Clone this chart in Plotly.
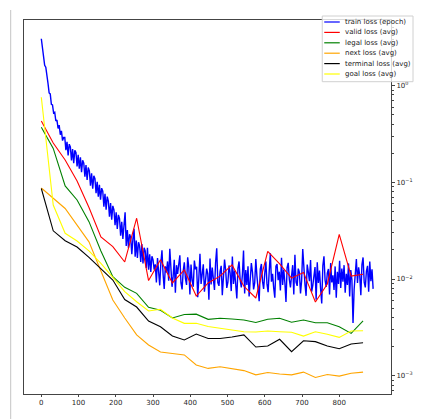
import plotly.graph_objects as go

# ---------------- data ----------------
avg_epochs = list(range(0, 865, 32))

valid_loss = [0.431, 0.255, 0.170, 0.103, 0.0548, 0.0272, 0.0216, 0.0150, 0.0425, 0.00964,
              0.0158, 0.00910, 0.0124, 0.00667, 0.00910, 0.0107, 0.0140, 0.00841, 0.00636, 0.0193,
              0.0143, 0.0102, 0.0117, 0.00578, 0.00888, 0.0290, 0.0107, 0.0112]
legal_loss = [0.371, 0.224, 0.0916, 0.0656, 0.0392, 0.0195, 0.01057, 0.00820, 0.00711, 0.00510,
              0.00475, 0.00395, 0.00430, 0.00433, 0.00383, 0.00393, 0.00386, 0.00377, 0.00355, 0.00383,
              0.00393, 0.00357, 0.00377, 0.00353, 0.00353, 0.00321, 0.00274, 0.00368]
next_loss = [0.0873, 0.0689, 0.0536, 0.0361, 0.0242, 0.0121, 0.00607, 0.00395, 0.00264, 0.00208,
             0.00176, 0.00170, 0.00164, 0.00129, 0.00119, 0.00124, 0.00119, 0.00113, 0.00102, 0.00108,
             0.00104, 0.00102, 0.00109, 0.00096, 0.00103, 0.00099, 0.00106, 0.00109]
terminal_loss = [0.0863, 0.0315, 0.0249, 0.0214, 0.0167, 0.0127, 0.00977, 0.00614, 0.00513, 0.00368,
                 0.00321, 0.00258, 0.00234, 0.00270, 0.00243, 0.00243, 0.00251, 0.00264, 0.00198, 0.00203,
                 0.00238, 0.00177, 0.00230, 0.00225, 0.00203, 0.00190, 0.00213, 0.00219]
goal_loss = [0.757, 0.0582, 0.0297, 0.0247, 0.0195, 0.0145, 0.01037, 0.00739, 0.00582, 0.00467,
             0.00486, 0.00395, 0.00348, 0.00348, 0.00323, 0.00308, 0.00297, 0.00285, 0.00283, 0.00290,
             0.00285, 0.00281, 0.00257, 0.00285, 0.00268, 0.00249, 0.00290, 0.00292]

train_loss = [
    3.05, 2.45, 2.15, 1.62, 1.55, 1.18, 1.05, 0.84, 0.82, 0.64, 0.63, 0.52, 0.53, 0.43, 0.44, 0.36,
    0.39, 0.31, 0.34, 0.27, 0.29,
    0.29, 0.215, 0.262, 0.19, 0.248, 0.232, 0.168, 0.221, 0.158, 0.214, 0.203, 0.146, 0.192, 0.138,
    0.181, 0.127, 0.169, 0.158, 0.114, 0.151, 0.106, 0.142, 0.131, 0.092, 0.124, 0.086, 0.117, 0.109,
    0.077, 0.101,
    0.071, 0.094, 0.066, 0.087, 0.081, 0.056, 0.076, 0.052, 0.071, 0.064, 0.044, 0.061, 0.041, 0.057,
    0.052, 0.036, 0.049, 0.033, 0.046, 0.042, 0.028, 0.039, 0.026, 0.037, 0.049, 0.022, 0.032, 0.021,
    0.029, 0.027, 0.018, 0.026, 0.033, 0.017, 0.025, 0.0165, 0.024, 0.022, 0.015, 0.023, 0.0145, 0.021,
    0.0195, 0.013, 0.021, 0.0125, 0.018, 0.0118, 0.0172, 0.0158,
    0.0125, 0.0142, 0.0092, 0.0165, 0.0104, 0.0086, 0.0147, 0.0198, 0.0112, 0.0079, 0.0135, 0.0117,
    0.0152, 0.0096, 0.0205, 0.0128, 0.0083, 0.0107, 0.0158, 0.0072, 0.0139, 0.0113, 0.0145, 0.0176,
    0.0091, 0.0078, 0.0121, 0.0149, 0.0101, 0.0087, 0.0168, 0.0132, 0.0069,
    0.0141, 0.0097, 0.0083, 0.0155, 0.0126, 0.0134, 0.0065, 0.0102, 0.0182, 0.0089, 0.0117, 0.0142,
    0.0074, 0.0095, 0.0128, 0.0113, 0.0061, 0.0163, 0.0088, 0.0131, 0.0099, 0.0077, 0.0148, 0.0208,
    0.0092, 0.0085, 0.0119, 0.0137, 0.0068, 0.0103, 0.0159, 0.0124, 0.0081,
    0.0093, 0.0138, 0.0116, 0.0075, 0.0171, 0.0089, 0.0122, 0.0094, 0.0063, 0.0129, 0.0152, 0.0098,
    0.0082, 0.0111, 0.0197, 0.0071, 0.0124, 0.0087, 0.0135, 0.0066, 0.0101, 0.0146, 0.0118, 0.0078,
    0.0091, 0.0161, 0.0107, 0.0084, 0.0059, 0.0127, 0.0143, 0.0095, 0.0079,
    0.0114, 0.0152, 0.0089, 0.0073, 0.0121, 0.0185, 0.0094, 0.0113, 0.0081, 0.0064, 0.0136, 0.0143,
    0.0097, 0.0119, 0.0076, 0.0166, 0.0087, 0.0125, 0.0092, 0.0058, 0.0131, 0.0147, 0.0099, 0.0082,
    0.0108, 0.0139, 0.0069, 0.0178, 0.0093, 0.0085, 0.0128, 0.0117, 0.0071,
    0.0096, 0.0204, 0.0126, 0.0088, 0.0067, 0.0141, 0.0118, 0.0095, 0.0157, 0.0074, 0.0086, 0.0112,
    0.0133, 0.0061, 0.0149, 0.0091, 0.0122, 0.0079, 0.0056, 0.0138, 0.0172, 0.0097, 0.0083, 0.0115,
    0.0127, 0.0069, 0.0146, 0.0092, 0.0109, 0.0077, 0.0135, 0.0064, 0.0119,
    0.0089, 0.0154, 0.0081, 0.0128, 0.0094, 0.0139, 0.0072, 0.0113, 0.0087, 0.0145, 0.0066, 0.0124,
    0.0098, 0.0035, 0.0078, 0.0118, 0.0161, 0.0091, 0.0132, 0.0109, 0.0068, 0.0141, 0.0167, 0.0093,
    0.0082, 0.0121, 0.0137, 0.0074, 0.0152, 0.0095, 0.0126, 0.0079,
]
train_epochs = list(range(0, 3 * len(train_loss), 3))

x_ticks = [0, 100, 200, 300, 400, 500, 600, 700, 800]
y_ticks = [1e-3, 1e-2, 1e-1, 1.0]
y_tick_text = ["10<sup>−3</sup>", "10<sup>−2</sup>", "10<sup>−1</sup>", "10<sup>0</sup>"]

series = [
    ("train loss (epoch)", train_epochs, train_loss, "#0000ff", 1.4),
    ("valid loss (avg)", avg_epochs, valid_loss, "#ff0000", 1.1),
    ("legal loss (avg)", avg_epochs, legal_loss, "#008000", 1.1),
    ("next loss (avg)", avg_epochs, next_loss, "#ffa500", 1.1),
    ("terminal loss (avg)", avg_epochs, terminal_loss, "#000000", 1.1),
    ("goal loss (avg)", avg_epochs, goal_loss, "#ffff00", 1.1),
]

# ---------------- layout helpers ----------------
W, H = 435, 419
L, R, T, B = 24, 390.7, 20, 394


def px(x):
    return (x - L) / (R - L)


def py(y):
    return (B - y) / (B - T)


fig = go.Figure()
for name, xs, ys, col, lw in series:
    fig.add_trace(go.Scatter(x=xs, y=ys, mode="lines", name=name,
                             line=dict(color=col, width=lw), showlegend=False))

axis_col = "#444444"
font = dict(family="DejaVu Sans", size=7, color="#262626")

minor_vals = [m * 10.0 ** e for e in range(-4, 1) for m in range(2, 10)]

fig.update_layout(
    width=W, height=H,
    margin=dict(l=L, r=W - R, t=T, b=H - B, autoexpand=False),
    paper_bgcolor="white", plot_bgcolor="white",
    font=font,
    xaxis=dict(range=[-46.5, 939], tickvals=x_ticks, showgrid=False, zeroline=False,
               showline=True, linecolor=axis_col, linewidth=1, mirror=True,
               ticks="outside", ticklen=2, tickcolor=axis_col, tickfont=font),
    yaxis=dict(type="log", range=[-3.189, 0.678], side="right", tickvals=y_ticks,
               ticktext=y_tick_text, showgrid=False, zeroline=False,
               showline=True, linecolor=axis_col, linewidth=1, mirror=True,
               ticks="outside", ticklen=3, tickcolor=axis_col, tickfont=font,
               minor=dict(tickvals=minor_vals, ticks="outside", ticklen=1.5,
                          tickcolor=axis_col, showgrid=False)),
)

shapes = []
annotations = []
# notebook output border line at left
shapes.append(dict(type="line", xref="paper", yref="paper",
                   x0=px(10.7), x1=px(10.7), y0=py(10), y1=py(419),
                   line=dict(color="#c4c4c4", width=1)))
# legend box
shapes.append(dict(type="rect", xref="paper", yref="paper",
                   x0=px(322), x1=px(412.7), y0=py(81.7), y1=py(16),
                   line=dict(color="#d0d0d0", width=1), fillcolor="rgba(255,255,255,0.8)"))
for i, (name, xs, ys, col, lw) in enumerate(series):
    yy = 22 + 10.4 * i
    shapes.append(dict(type="line", xref="paper", yref="paper",
                       x0=px(324), x1=px(339.5), y0=py(yy), y1=py(yy),
                       line=dict(color=col, width=1.2)))
    annotations.append(dict(xref="paper", yref="paper", x=px(342.5), y=py(yy),
                            xanchor="left", yanchor="middle", showarrow=False,
                            text=name, font=dict(family="DejaVu Sans", size=7, color="#222222")))

fig.update_layout(shapes=shapes, annotations=annotations)

fig.write_html("out.html")
